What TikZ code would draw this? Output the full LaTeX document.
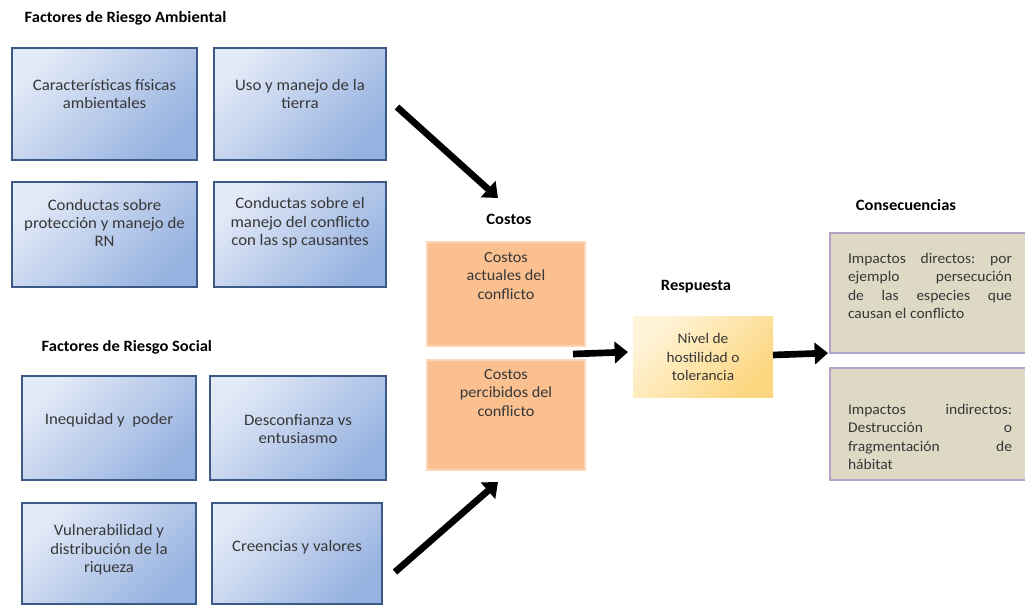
\documentclass[tikz,border=0pt]{standalone}
\usepackage{fontspec}
\setmainfont{Carlito}[FakeStretch=1.05]
\usetikzlibrary{arrows.meta}
\definecolor{riskedge}{RGB}{59,90,133}
\definecolor{risklight}{RGB}{226,233,247}
\definecolor{riskdark}{RGB}{150,178,224}
\definecolor{costfill}{RGB}{250,192,144}
\definecolor{costedge}{RGB}{252,214,184}
\definecolor{resplight}{RGB}{255,244,216}
\definecolor{respdark}{RGB}{252,214,128}
\definecolor{consfill}{RGB}{221,217,196}
\definecolor{consedge}{RGB}{178,164,200}
\definecolor{boxtext}{RGB}{55,55,55}
\tikzset{
  risk/.style={draw=riskedge,line width=2.2pt,top color=risklight,bottom color=riskdark,shading angle=45},
  cost/.style={draw=costedge,line width=1pt,fill=costfill},
  resp/.style={top color=resplight,bottom color=respdark,shading angle=45},
  cons/.style={draw=consedge,line width=1.6pt,fill=consfill},
  head/.style={font=\fontsize{11.8}{13}\selectfont\bfseries},
  risktxt/.style={align=center,text=boxtext,font=\fontsize{12}{13.8}\selectfont},
  costtxt/.style={align=center,text=boxtext,font=\fontsize{11.6}{13.9}\selectfont},
  resptxt/.style={align=center,text=boxtext,font=\fontsize{11}{13.6}\selectfont},
  constxt/.style={text=boxtext,font=\fontsize{11.1}{13.9}\selectfont},
  flow/.style={line width=5pt,-{Triangle[length=10pt,width=16pt]}}}
% box from its corners (px), text centred at y
\newcommand{\rbox}[9]{%
  \node[#1,minimum width={(#5-#3)*0.75pt},minimum height={(#6-#4)*0.75pt},inner sep=0pt]
    (#2) at ({(#3+#5)/2},{(#4+#6)/2}) {};
  \node[#8] (#2t) at ({(#3+#5)/2},#7) {#9};}

\begin{document}
\begin{tikzpicture}[x=0.75pt,y=-0.75pt]
  \useasboundingbox (0,0) rectangle (1025,607);
  \clip (0,0) rectangle (1025,607);
  % titles
  \node[head,anchor=west] (tamb) at (20,18) {Factores de Riesgo Ambiental};
  \node[head,anchor=west] (tsoc) at (37,347) {Factores de Riesgo Social};
  \node[head] (tcost) at (509,219) {Costos};
  \node[head] (tresp) at (696,287) {Respuesta};
  \node[head] (tcons) at (906,205) {Consecuencias};
  % ambiental
  \rbox{risk}{amb1}{12}{48}{197}{160}{94}{risktxt}{Características físicas\\ambientales}
  \rbox{risk}{amb2}{214}{48}{386}{160}{94}{risktxt}{Uso y manejo de la\\tierra}
  \rbox{risk}{amb3}{12}{182}{197}{287}{223}{risktxt}{Conductas sobre\\protección y manejo de\\RN}
  \rbox{risk}{amb4}{214}{182}{386}{287}{223}{risktxt}{Conductas sobre el\\manejo del conflicto\\con las sp causantes}
  % social
  \rbox{risk}{soc1}{22}{376}{196}{480}{420}{risktxt}{Inequidad y\ \ poder}
  \rbox{risk}{soc2}{210}{376}{386}{480}{429}{risktxt}{Desconfianza vs\\entusiasmo}
  \rbox{risk}{soc3}{22}{503}{196}{604}{550}{risktxt}{Vulnerabilidad y\\distribución de la\\riqueza}
  \rbox{risk}{soc4}{212}{503}{382}{604}{547}{risktxt}{Creencias y valores}
  % costos
  \rbox{cost}{cost1}{427}{242}{585}{346}{276}{costtxt}{Costos\\actuales del\\conflicto}
  \rbox{cost}{cost2}{427}{360}{585}{470}{393}{costtxt}{Costos\\percibidos del\\conflicto}
  % respuesta
  \rbox{resp}{resp}{633}{316}{773}{397}{357}{resptxt}{Nivel de\\hostilidad o\\tolerancia}
  % consecuencias
  \rbox{cons}{cons1}{830}{233}{1030}{353}{286}{constxt}{\parbox{123pt}{%
    Impactos\hfill directos:\hfill por\\ejemplo\hfill persecución\\de\hfill las\hfill especies\hfill que\\causan el conflicto}}
  \rbox{cons}{cons2}{830}{368}{1030}{480}{437}{constxt}{\parbox{123pt}{%
    Impactos\hfill indirectos:\\Destrucción\hfill o\\fragmentación\hfill de\\hábitat}}
  % arrows
  \coordinate (a1s) at (397,107); \coordinate (a1e) at (498,198);
  \coordinate (a2s) at (395,572); \coordinate (a2e) at (498,482);
  \coordinate (a3s) at (573,354); \coordinate (a3e) at (628,352);
  \coordinate (a4s) at (773,355); \coordinate (a4e) at (828,353);
  \draw[flow] (a1s) -- (a1e);
  \draw[flow] (a2s) -- (a2e);
  \draw[flow] (a3s) -- (a3e);
  \draw[flow] (a4s) -- (a4e);
\end{tikzpicture}
\end{document}
